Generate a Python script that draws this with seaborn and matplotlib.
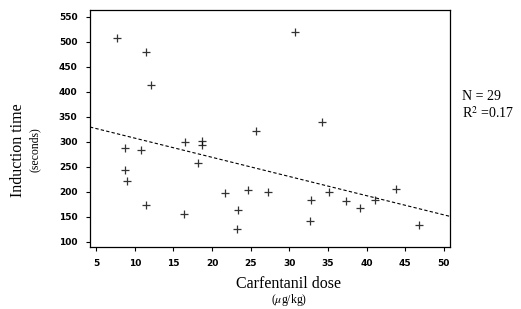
import numpy as np
import matplotlib.pyplot as plt
import pandas as pd
import seaborn as sns

sns.set_theme(style='ticks')
plt.rcParams['font.family'] = ['DejaVu Sans']
plt.rcParams['mathtext.fontset'] = 'stix'
plt.rcParams['text.color'] = 'black'
plt.rcParams['xtick.color'] = 'black'
plt.rcParams['ytick.color'] = 'black'

# carfentanil dose (ug/kg) vs induction time (s)
dose = [7.7, 11.4, 12.1, 30.8, 25.7, 34.2, 8.7, 8.7, 9.0, 10.8, 11.5, 16.5, 16.4, 18.2, 18.7,
        18.7, 21.7, 23.4, 23.2, 24.6, 27.3, 32.8, 32.7, 35.1, 37.4, 39.2, 41.1, 43.8, 46.8]
induction = [507, 480, 413, 519, 321, 340, 287, 243, 222, 283, 174, 300, 156, 257, 301,
             293, 198, 163, 125, 203, 199, 183, 141, 199, 181, 167, 183, 205, 133]
xticks = [5, 10, 15, 20, 25, 30, 35, 40, 45, 50]
yticks = [100, 150, 200, 250, 300, 350, 400, 450, 500, 550]

df = pd.DataFrame({'dose': dose, 'time': induction})

fig = plt.figure(figsize=(5.21, 3.09), dpi=100)
ax = fig.add_axes([0.1727, 0.2016, 0.691, 0.766])
ax.set_xlim(4.2, 50.8)
ax.set_ylim(90, 563)

# truncate=False -> fit line spans the whole x range already set
sns.regplot(data=df, x='dose', y='time', ax=ax, ci=None, truncate=False,
            marker='+', scatter_kws={'s': 40, 'color': 'black', 'linewidths': 0.9},
            line_kws={'color': 'black', 'lw': 0.8, 'ls': (0, (3, 2))})

ax.set_xlim(4.2, 50.8)
ax.set_ylim(90, 563)
ax.set_xticks(xticks)
ax.set_yticks(yticks)
ax.tick_params(labelsize=6.5, length=3, width=0.8, color='black', pad=6)
for lab in ax.get_xticklabels() + ax.get_yticklabels():
    lab.set_fontweight('bold')
ax.set_xlabel('')
ax.set_ylabel('')
for s in ax.spines.values():
    s.set_linewidth(0.9)
    s.set_color('black')

serif = 'Liberation Serif'
fig.text(18 / 521, 1 - 150 / 309, 'Induction time', rotation=90, family=serif,
         fontsize=11.5, ha='center', va='center')
fig.text(35 / 521, 1 - 150 / 309, '(seconds)', rotation=90, family=serif,
         fontsize=8.5, ha='center', va='center')
fig.text(289 / 521, 1 - 284 / 309, 'Carfentanil dose', family=serif,
         fontsize=11.5, ha='center', va='center')
fig.text(289 / 521, 1 - 300 / 309, r'($\mu$g/kg)', family=serif,
         fontsize=8.5, ha='center', va='center')
fig.text(462 / 521, 1 - 97 / 309, 'N = 29', family=serif,
         fontsize=10, ha='left', va='center')
fig.text(462 / 521, 1 - 113 / 309, r'R$^2$ =0.17', family=serif,
         fontsize=10, ha='left', va='center')

plt.savefig('out.png', dpi=100)
plt.close()
